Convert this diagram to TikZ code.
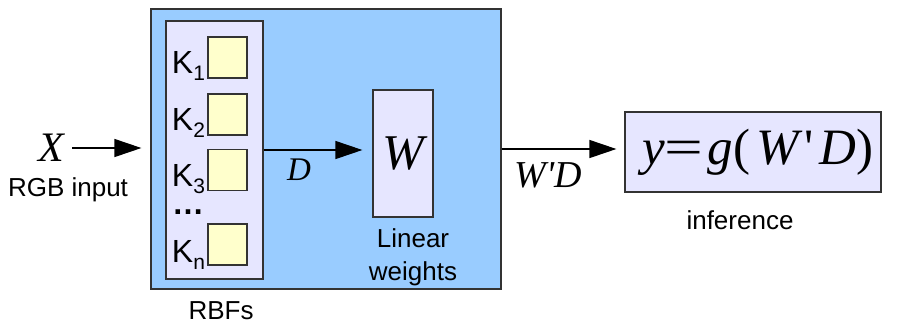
\documentclass[tikz,border=0pt]{standalone}
\usepackage{fontspec}
\setmainfont{Liberation Sans}
\newfontfamily\timesfont{Liberation Serif}
\usepackage{tikz}
\usetikzlibrary{arrows.meta,positioning}
\definecolor{BlockBlue}{HTML}{99CCFF}
\definecolor{BoxLavender}{HTML}{E6E6FF}
\definecolor{KernelYellow}{HTML}{FFFFCC}
\definecolor{EdgeGray}{HTML}{333333}
\newcommand{\varit}[1]{{\timesfont\itshape #1}}
\newcommand{\ksub}[1]{K\raisebox{-3.5pt}{\fontsize{10.5}{12}\selectfont #1}}

\begin{document}
\begin{tikzpicture}[x=0.5pt,y=-0.5pt,
  box/.style={draw=EdgeGray,line width=0.6pt,inner sep=0pt},
  kernel/.style={box,fill=KernelYellow,minimum width=19.5pt,minimum height=20.5pt},
  klabel/.style={anchor=base east,inner sep=0pt,xshift=-1pt,font=\fontsize{16}{18}\selectfont},
  lbl/.style={align=center,font=\fontsize{13}{16.5}\selectfont},
  flow/.style={-{Triangle[length=13.5pt,width=9pt]},line width=0.6pt}]
  \useasboundingbox (0,0) rectangle (900,328);
  % main block
  \node[box,fill=BlockBlue,minimum width=175pt,minimum height=140pt] (block) at (326,149) {};
  \node[box,fill=BoxLavender,minimum width=48.5pt,minimum height=129pt] (rbf) at (214.5,150) {};
  \node[kernel] (k1) at (227.5,57.5) {};
  \node[kernel] (k2) at (227.5,114.5) {};
  \node[kernel] (k3) at (227.5,170) {};
  \node[kernel] (kn) at (227.5,244.5) {};
  \node[klabel] (k1lbl) at ([yshift=2.5pt]k1.south west) {\ksub{1}};
  \node[klabel] (k2lbl) at ([yshift=2.5pt]k2.south west) {\ksub{2}};
  \node[klabel] (k3lbl) at ([yshift=2.5pt]k3.south west) {\ksub{3}};
  \node[klabel] (knlbl) at ([yshift=1.5pt]kn.south west) {\ksub{n}};
  \node[inner sep=0pt,font=\fontsize{16}{18}\selectfont] (dots) at (188,212) {\textbf{…}};
  \node[box,fill=BoxLavender,minimum width=30pt,minimum height=63.5pt] (W) at (403,153.5)
    {\fontsize{25}{28}\selectfont\varit{W}};
  \node[lbl] (wlbl) at (413,257) {Linear\\weights};
  \node[lbl] (rbflbl) at (221,311) {RBFs};
  % input
  \node[inner sep=4pt,font=\fontsize{21}{24}\selectfont] (X) at (51,148) {\varit{X}};
  \node[lbl] (xlbl) at (68,190) {RGB input};
  \draw[flow,shorten >=4.5pt] (X.east) -- (X.east -| block.west);
  % kernels to weights
  \draw[flow,shorten >=5pt] (rbf.east) -- (rbf.east -| W.west);
  \node[font=\fontsize{16.5}{18}\selectfont] (dlbl) at (299,170) {\varit{D}};
  % output
  \node[box,fill=BoxLavender,minimum width=128pt,minimum height=40pt] (out) at (753,152)
    {\fontsize{25.5}{28}\selectfont\timesfont\kern5pt\varit{y}\scalebox{1.35}[1]{=}\kern2pt\varit{g}(\kern3pt\varit{W}\kern3pt\textquotesingle\kern3pt\varit{D})};
  \node[lbl] (outlbl) at (740,220) {inference};
  \draw[flow,shorten >=4pt] (block.east) -- (block.east -| out.west);
  \node[font=\fontsize{19}{22}\selectfont] (wdlbl) at (548,175) {\varit{W'D}};
\end{tikzpicture}
\end{document}
